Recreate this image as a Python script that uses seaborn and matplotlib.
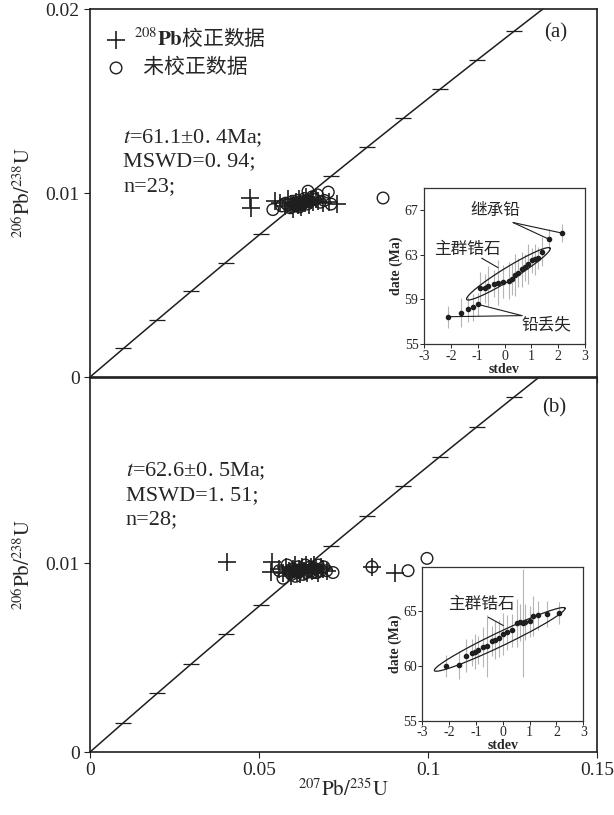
import numpy as np
import matplotlib
matplotlib.use("Agg")
import matplotlib.pyplot as plt
from matplotlib.font_manager import FontProperties
import seaborn as sns

sns.set_style("ticks")
plt.rcParams['font.family'] = ['Liberation Serif', 'Noto Sans CJK SC', 'DejaVu Sans']
plt.rcParams['mathtext.fontset'] = 'stix'
plt.rcParams['axes.unicode_minus'] = False

# Concordia, points every 10 Ma (0 .. 130 Ma)
con_x = [0, 0.009897, 0.019892, 0.029986, 0.040180, 0.050475, 0.060872, 0.071371,
         0.081975, 0.092683, 0.103499, 0.114419, 0.125452, 0.136588]
con_y = [0, 0.0015525, 0.0031055, 0.004665, 0.0062243, 0.0077864, 0.0093510, 0.010918,
         0.012487, 0.014059, 0.015633, 0.017210, 0.018789, 0.020371]

# Panel (a): 208Pb corrected (+) and uncorrected (o)
a_plus_x = [0.0473, 0.0477, 0.0546, 0.0561, 0.0577, 0.0587, 0.0595, 0.0602, 0.0609, 0.0615,
            0.0619, 0.0625, 0.0630, 0.0635, 0.0640, 0.0648, 0.0653, 0.0660, 0.0668, 0.0676,
            0.0688, 0.0708, 0.0731]
a_plus_y = [0.00975, 0.00920, 0.00955, 0.00945, 0.00930, 0.00965, 0.00940, 0.00915, 0.00950,
            0.00935, 0.00970, 0.00925, 0.00955, 0.00945, 0.00980, 0.00935, 0.00960, 0.00950,
            0.00970, 0.00955, 0.00945, 0.00950, 0.00940]
a_circ_x = [0.0541, 0.0567, 0.0579, 0.0592, 0.0600, 0.0607, 0.0614, 0.0620, 0.0627, 0.0635,
            0.0642, 0.0645, 0.0650, 0.0658, 0.0666, 0.0673, 0.0681, 0.0693, 0.0705, 0.0713,
            0.0867, 0.0585, 0.0597, 0.0604, 0.0611, 0.0618, 0.0624, 0.0632, 0.0639]
a_circ_y = [0.00910, 0.00930, 0.00945, 0.00920, 0.00955, 0.00935, 0.00960, 0.00925, 0.00950,
            0.00970, 0.00940, 0.01010, 0.00955, 0.00980, 0.00965, 0.00990, 0.00950, 0.00960,
            0.01005, 0.00940, 0.00973, 0.00935, 0.00925, 0.00945, 0.00930, 0.00940, 0.00935,
            0.00945, 0.00955]

# Panel (b)
b_plus_x = [0.0405, 0.0537, 0.0535, 0.0560, 0.0572, 0.0580, 0.0588, 0.0595, 0.0600, 0.0606,
            0.0612, 0.0617, 0.0622, 0.0628, 0.0633, 0.0638, 0.0643, 0.0648, 0.0653, 0.0658,
            0.0664, 0.0670, 0.0676, 0.0683, 0.0690, 0.0700, 0.0834, 0.0902]
b_plus_y = [0.01005, 0.01005, 0.00952, 0.0097, 0.0095, 0.0098, 0.0096, 0.0093, 0.0097, 0.0099,
            0.0095, 0.0097, 0.0094, 0.0098, 0.0096, 0.0099, 0.0095, 0.0097, 0.0098, 0.0096,
            0.0099, 0.0097, 0.0095, 0.0098, 0.0097, 0.0096, 0.0098, 0.0095]
b_circ_x = [0.0560, 0.0571, 0.0583, 0.0592, 0.0600, 0.0608, 0.0615, 0.0622, 0.0630, 0.0637,
            0.0645, 0.0652, 0.0660, 0.0667, 0.0675, 0.0683, 0.0692, 0.0700, 0.0719, 0.0834,
            0.0941, 0.0997, 0.0596, 0.0604, 0.0612, 0.0626, 0.0641, 0.0656, 0.0671]
b_circ_y = [0.0096, 0.0092, 0.0099, 0.0095, 0.0097, 0.0093, 0.0098, 0.0096, 0.0094, 0.0099,
            0.0096, 0.0098, 0.0095, 0.0097, 0.0099, 0.0096, 0.0098, 0.0096, 0.0095, 0.0098,
            0.0096, 0.01025, 0.0094, 0.0096, 0.0095, 0.0097, 0.0095, 0.0096, 0.0095]

# Inset (a): stdev vs date
ins_a_x = [-2.10, -1.62, -1.36, -1.17, -0.98, -0.91, -0.72, -0.60, -0.41, -0.23, -0.04, 0.15,
           0.27, 0.40, 0.52, 0.65, 0.77, 0.89, 1.02, 1.14, 1.26, 1.39, 1.66, 2.15]
ins_a_y = [57.45, 57.8, 58.1, 58.3, 58.55, 60.0, 60.0, 60.2, 60.4, 60.5, 60.6, 60.7, 60.8,
           61.2, 61.4, 61.7, 61.9, 62.2, 62.5, 62.6, 62.7, 63.3, 64.4, 64.95]
ins_a_err = [1.0, 1.3, 1.1, 1.2, 1.0, 1.5, 1.3, 1.8, 1.2, 2.0, 1.5, 1.7, 1.4, 1.9, 1.3, 1.6,
             1.2, 1.8, 1.1, 1.4, 1.0, 1.3, 0.9, 0.8]

# Inset (b)
ins_b_x = [-2.13, -1.62, -1.37, -1.16, -1.03, -0.91, -0.72, -0.60, -0.41, -0.29, -0.16, 0.02,
           0.15, 0.34, 0.52, 0.65, 0.76, 0.83, 1.02, 1.14, 1.33, 1.64, 2.10]
ins_b_y = [59.97, 60.06, 60.9, 61.19, 61.28, 61.41, 61.70, 61.80, 62.24, 62.33, 62.48, 62.90,
           63.05, 63.20, 63.89, 63.95, 63.9, 63.98, 64.04, 64.49, 64.58, 64.70, 64.79]
ins_b_err = [1.0, 1.3, 1.5, 1.2, 1.6, 1.3, 1.8, 2.8, 1.4, 1.7, 1.7, 1.9, 1.6, 1.5, 2.2, 1.7,
             4.9, 1.6, 1.4, 1.8, 1.3, 1.2, 1.0]

INK = '#1e1e1e'


def ellipse(ax, tip1, tip2, v):
    # outline of the "main group" ellipse, given its two tips and half minor vector
    c = ((tip1[0] + tip2[0]) / 2, (tip1[1] + tip2[1]) / 2)
    u = ((tip2[0] - tip1[0]) / 2, (tip2[1] - tip1[1]) / 2)
    th = np.linspace(0, 2 * np.pi, 200)
    ax.plot(c[0] + u[0] * np.cos(th) + v[0] * np.sin(th),
            c[1] + u[1] * np.cos(th) + v[1] * np.sin(th), color=INK, lw=0.9)


def main_panel(ax, px, py, cx, cy, ytop):
    ax.plot(con_x, con_y, color=INK, lw=1.1)
    ax.plot(con_x[1:], con_y[1:], ls='none', marker='_', ms=11, mew=0.9, color=INK)
    sns.scatterplot(x=px, y=py, ax=ax, marker='+', s=170, color=INK, linewidth=1.2,
                    label=r'$^{208}\mathbf{Pb}$校正数据')
    sns.scatterplot(x=cx, y=cy, ax=ax, marker='o', s=70, facecolors='none',
                    edgecolor=INK, linewidth=1.0, label='  未校正数据')
    ax.set_xlim(0, 0.15)
    ax.set_ylim(0, ytop)
    ax.set_xticks([0, 0.05, 0.1, 0.15])
    ax.tick_params(labelsize=14, length=4, width=0.8, direction='out')
    for s in ax.spines.values():
        s.set_linewidth(1.2)
        s.set_color(INK)
    ax.set_ylabel(r'$^{206}\mathrm{Pb}/^{238}\mathrm{U}$', fontsize=15)
    ax.yaxis.set_label_coords(-0.108, 0.5)


def inset(ax, x, y, err, yticks):
    ax.errorbar(x, y, yerr=err, fmt='o', ms=3, color=INK, ecolor='#b5b5b5',
                elinewidth=0.8, capsize=0)
    ax.set_xlim(-3, 3)
    ax.set_ylim(55, 69)
    ax.set_xticks([-3, -2, -1, 0, 1, 2, 3])
    ax.set_yticks(yticks)
    ax.tick_params(labelsize=10, length=3, width=0.7, pad=1)
    ax.set_xlabel('stdev', fontsize=10, fontweight='bold', labelpad=0)
    ax.set_ylabel('date (Ma)', fontsize=10, fontweight='bold', labelpad=1)
    for s in ax.spines.values():
        s.set_linewidth(0.9)
        s.set_color('#333333')


fig = plt.figure(figsize=(6.14, 8.15), dpi=100)
ax_a = fig.add_axes([0.1466, 0.5374, 0.8257, 0.4515])
ax_b = fig.add_axes([0.1466, 0.0773, 0.8257, 0.4589])

main_panel(ax_a, a_plus_x, a_plus_y, a_circ_x, a_circ_y, 0.02)
main_panel(ax_b, b_plus_x, b_plus_y, b_circ_x, b_circ_y, 0.0198)

ax_a.set_yticks([0, 0.01, 0.02])
ax_a.set_yticklabels(['0', '0.01', '0.02'])
ax_a.set_xticklabels([])
ax_b.set_yticks([0, 0.01])
ax_b.set_yticklabels(['0', '0.01'])
ax_b.set_xticklabels(['0', '0.05', '0.1', '0.15'])
ax_b.set_xlabel(r'$^{207}\mathrm{Pb}/^{235}\mathrm{U}$', fontsize=15)
ax_b.xaxis.set_label_coords(0.5, -0.072)

leg_font = FontProperties(family='Noto Sans CJK SC', size=15)
ax_a.legend(loc='upper left', bbox_to_anchor=(0.0, 0.985), frameon=False, prop=leg_font,
            handletextpad=0.2, handlelength=1.3, borderaxespad=0.2, labelspacing=0.3)
ax_b.get_legend().remove()

ax_a.text(0.918, 0.935, '(a)', transform=ax_a.transAxes, fontsize=15, ha='center', va='center')
ax_b.text(0.916, 0.92, '(b)', transform=ax_b.transAxes, fontsize=15, ha='center', va='center')

stat_a = [r'$t$=61.1±0. 4Ma;', 'MSWD=0. 94;', 'n=23;']
stat_b = [r'$t$=62.6±0. 5Ma;', 'MSWD=1. 51;', 'n=28;']
for i, s in enumerate(stat_a):
    ax_a.text(0.066, 0.65 - i * 0.066, s, transform=ax_a.transAxes, fontsize=16, va='center')
for i, s in enumerate(stat_b):
    ax_b.text(0.07, 0.752 - i * 0.066, s, transform=ax_b.transAxes, fontsize=16, va='center')

# inset (a)
ia = fig.add_axes([0.6906, 0.5779, 0.2622, 0.1914])
inset(ia, ins_a_x, ins_a_y, ins_a_err, [55, 59, 63, 67])
ellipse(ia, (-1.41, 59.0), (1.70, 63.6), (-0.125, 0.492))
ia.text(-0.35, 67.0, '继承铅', fontsize=12, ha='center', va='center', family='Noto Sans CJK SC')
ia.plot([0.32, 1.66], [65.9, 64.4], color=INK, lw=0.8)
ia.plot([0.32, 2.15], [65.9, 64.95], color=INK, lw=0.8)
ia.text(-1.4, 63.5, '主群锆石', fontsize=12, ha='center', va='center', family='Noto Sans CJK SC')
ia.plot([-0.85, -0.24], [62.7, 61.85], color=INK, lw=0.8)
ia.text(1.55, 56.7, '铅丢失', fontsize=12, ha='center', va='center', family='Noto Sans CJK SC')
ia.plot([-2.1, 0.65], [57.45, 57.55], color=INK, lw=0.8)
ia.plot([-0.98, 0.65], [58.55, 57.55], color=INK, lw=0.8)

# inset (b)
ib = fig.add_axes([0.6878, 0.1157, 0.2622, 0.1890])
inset(ib, ins_b_x, ins_b_y, ins_b_err, [55, 60, 65])
ellipse(ib, (-2.55, 59.55), (2.32, 65.23), (-0.114, 0.566))
ib.text(-0.81, 65.55, '主群锆石', fontsize=12, ha='center', va='center', family='Noto Sans CJK SC')
ib.plot([-0.54, 0.02], [64.4, 63.65], color=INK, lw=0.8)

fig.savefig('out.png', dpi=100)
